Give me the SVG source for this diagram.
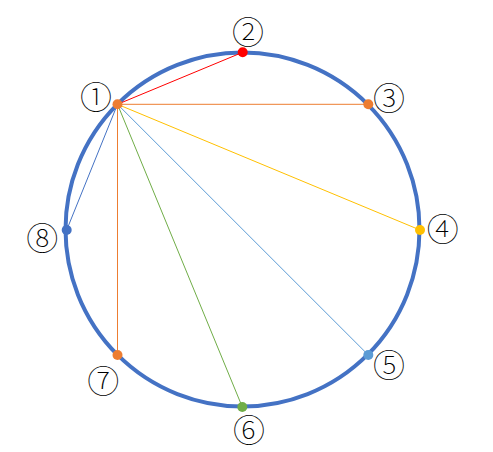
<svg xmlns="http://www.w3.org/2000/svg" width="493" height="452" viewBox="0 0 493 452">
<style>
.lbl{font-family:"Noto Sans CJK JP","DejaVu Sans",sans-serif;font-size:32px;font-weight:100;text-anchor:middle;dominant-baseline:central;fill:#000}
.ln{stroke-width:1;fill:none}
</style>
<rect width="493" height="452" fill="#fff"/>
<g id="ring"><circle cx="242.5" cy="229.5" r="177" fill="none" stroke="#4472C4" stroke-width="4"/></g>
<g id="connectors">
<line class="ln" x1="117.5" y1="104.3" x2="242.7" y2="52.3" stroke="#FF0000"/>
<line class="ln" x1="117.5" y1="104.3" x2="368.3" y2="104.3" stroke="#ED7D31"/>
<line class="ln" x1="117.5" y1="104.3" x2="420" y2="230" stroke="#FFC000"/>
<line class="ln" x1="117.5" y1="104.3" x2="368.3" y2="355" stroke="#5B9BD5"/>
<line class="ln" x1="117.5" y1="104.3" x2="242.3" y2="407" stroke="#70AD47"/>
<line class="ln" x1="117.5" y1="104.3" x2="117.5" y2="355" stroke="#ED7D31"/>
<line class="ln" x1="117.5" y1="104.3" x2="66.7" y2="230" stroke="#4472C4"/>
</g>
<g id="n1"><circle cx="117.5" cy="104.3" r="5" fill="#ED7D31"/><text class="lbl" x="96" y="95">①</text></g>
<g id="n2"><circle cx="242.7" cy="52.3" r="5" fill="#FF0000"/><text class="lbl" x="248" y="30">②</text></g>
<g id="n3"><circle cx="368.3" cy="104.3" r="5" fill="#ED7D31"/><text class="lbl" x="389" y="96">③</text></g>
<g id="n4"><circle cx="420" cy="230" r="5" fill="#FFC000"/><text class="lbl" x="442.7" y="226.7">④</text></g>
<g id="n5"><circle cx="368.3" cy="355" r="5" fill="#5B9BD5"/><text class="lbl" x="389" y="363.3">⑤</text></g>
<g id="n6"><circle cx="242.3" cy="407" r="5" fill="#70AD47"/><text class="lbl" x="249" y="427.7">⑥</text></g>
<g id="n7"><circle cx="117.5" cy="355" r="5" fill="#ED7D31"/><text class="lbl" x="103.3" y="379">⑦</text></g>
<g id="n8"><circle cx="66.7" cy="230" r="5" fill="#4472C4"/><text class="lbl" x="42.3" y="236">⑧</text></g>
</svg>
